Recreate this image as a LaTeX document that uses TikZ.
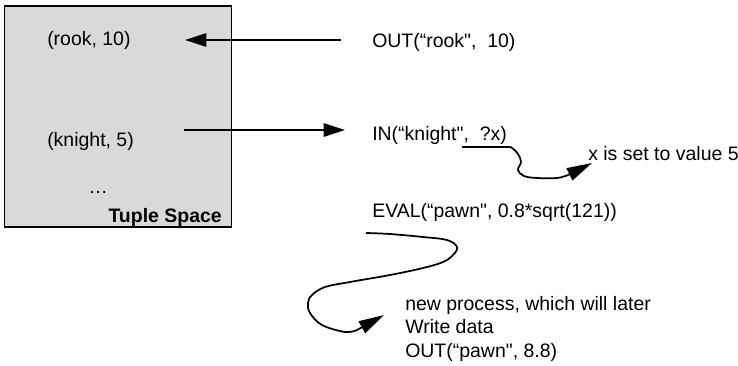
\documentclass[tikz,border=0pt]{standalone}
\usepackage{fontspec}
\setmainfont{Liberation Sans}[Ligatures=TeXOff]
\usetikzlibrary{arrows.meta}

\begin{document}
\begin{tikzpicture}[x=0.75pt, y=-0.75pt,
  lbl/.style={anchor=base west, inner sep=0pt, font=\fontsize{14.6}{17.6}\selectfont},
  link/.style={line width=1.4pt, -{Triangle[length=16pt, width=10pt]}},
  wiggle/.style={line width=1.3pt, -{Triangle[length=19pt, width=10pt]}}]
  \useasboundingbox (0,0) rectangle (738,365);
  % the shared tuple space
  \node[draw, line width=1.1pt, fill=black!15, minimum width=170pt, minimum height=165.75pt,
        inner sep=0pt] (space) at (118,116.5) {};
  \node[lbl] (rook) at (47,45) {(rook, 10)};
  \node[lbl] (knight) at (47,146) {(knight, 5)};
  \node[lbl] (dots) at (88,193) {…};
  \node[lbl, anchor=base east, font=\fontsize{14.6}{17.6}\selectfont\bfseries] (title) at (222,222) {Tuple Space};
  % operations
  \node[lbl] (out) at (372,47) {OUT(“rook", \ 10)};
  \node[lbl] (in) at (372,140) {IN(“knight", \ ?x)};
  \node[lbl] (xset) at (588,160) {x is set to value 5};
  \node[lbl] (eval) at (372,217) {EVAL(“pawn", 0.8*sqrt(121))};
  % base of a multi-line node sits on its last line
  \node[lbl, align=left] (proc) at (405,357) {new process, which will later\\Write data\\OUT(“pawn", 8.8)};
  % arrow ends
  \coordinate (outsrc) at (341,40);
  \coordinate (rookdst) at (185,40);
  \coordinate (knightsrc) at (184,130);
  \coordinate (indst) at (345,130);
  \coordinate (insrc) at (462,147);
  \coordinate (xdst) at (592,163);
  \coordinate (evalsrc) at (366,233);
  \coordinate (procdst) at (384,315);
  \draw[link] (outsrc) -- (rookdst);
  \draw[link] (knightsrc) -- (indst);
  % hand drawn squiggles
  \draw[wiggle] plot[smooth, tension=0.6] coordinates {(insrc) (505,147) (512,148) (518,154)
    (521,162) (518,170) (524,176) (537,178) (557,178) (568,175)} -- (xdst);
  \draw[wiggle] plot[smooth, tension=0.6] coordinates {(evalsrc) (390,234) (423,237) (447,240)
    (457,247) (453,255) (443,262) (423,268) (390,275) (350,282) (325,287) (312,295) (308,303)
    (310,313) (322,325) (345,332) (357,330)} -- (procdst);
\end{tikzpicture}
\end{document}
